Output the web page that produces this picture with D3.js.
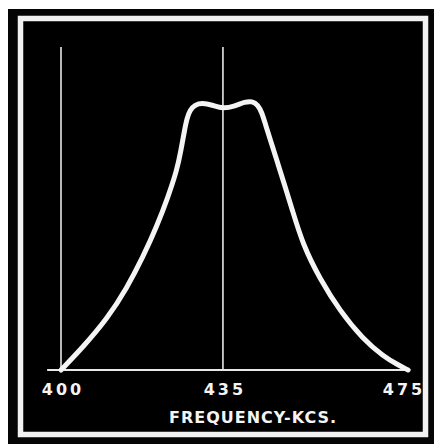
<!DOCTYPE html>
<html>
<head>
<meta charset="utf-8">
<script src="https://cdn.jsdelivr.net/npm/d3@7"></script>
<style>
    body { margin: 0; background: #fff; }
    #chart { width: 434px; height: 444px; }
</style>
</head>
<body>
<div id="chart"></div>
<script>
// response curve (relative height, peak ~1)
const freqKc   = [400, 404.75, 409.94, 414.26, 417.72, 420.75, 423.13, 425.07, 425.94, 426.58, 427.23, 427.88, 428.96, 430.48, 432.64, 435.01, 437.61, 439.77, 441.28, 442.58, 443.44, 444.09, 445.6, 446.9, 448.2, 449.93, 452.31, 455.98, 460.3, 465.27, 469.6, 472.84, 475];
const response = [0, 0.085, 0.189, 0.305, 0.42, 0.535, 0.643, 0.743, 0.817, 0.88, 0.936, 0.966, 0.985, 0.992, 0.985, 0.97, 0.981, 0.996, 0.999, 0.985, 0.955, 0.918, 0.836, 0.765, 0.695, 0.598, 0.464, 0.338, 0.219, 0.115, 0.052, 0.019, 0];

const markerKc   = [400, 435];
const tickValues = [400, 435, 475];
const axisTitle  = "FREQUENCY-KCS.";

class ResponseVis {

    constructor(parentElement, freq, resp) {
        this.parentElement = parentElement;
        this.freq = freq;
        this.resp = resp;

        this.initVis()
    }

    initVis() {
        let vis = this;

        vis.svg = d3.select("#" + vis.parentElement).append("svg")
            .attr("width", 434)
            .attr("height", 444);

        // black card with the white inner rule
        vis.svg.append("rect")
            .attr("x", 8).attr("y", 9)
            .attr("width", 426).attr("height", 435)
            .attr("fill", "#050505");
        vis.svg.append("rect")
            .attr("x", 20.5).attr("y", 18.5)
            .attr("width", 405).attr("height", 416)
            .attr("fill", "#000")
            .attr("stroke", "#f2f2f2")
            .attr("stroke-width", 5.5);

        vis.x = d3.scaleLinear()
            .domain([400, 475])
            .range([61, 408]);

        vis.y = d3.scaleLinear()
            .domain([0, 1.2])
            .range([370, 47]);

        vis.line = d3.line()
            .x(d => vis.x(d.f))
            .y(d => vis.y(d.r))
            .curve(d3.curveBasis);

        vis.wrangleData();
    }

    wrangleData() {
        let vis = this;

        vis.displayData = vis.freq.map((f, i) => ({f: f, r: vis.resp[i]}));

        vis.updateVis()
    }

    updateVis() {
        let vis = this;

        // baseline
        vis.svg.append("line")
            .attr("x1", vis.x(397)).attr("x2", vis.x(475.5))
            .attr("y1", vis.y(0)).attr("y2", vis.y(0))
            .attr("stroke", "#e8e8e8")
            .attr("stroke-width", 2);

        // marker verticals
        vis.svg.selectAll(".marker")
            .data(markerKc)
            .join("line")
            .attr("class", "marker")
            .attr("x1", d => vis.x(d)).attr("x2", d => vis.x(d))
            .attr("y1", vis.y(1.2)).attr("y2", vis.y(0))
            .attr("stroke", "#e8e8e8")
            .attr("stroke-width", 1.6);

        vis.svg.append("path")
            .datum(vis.displayData)
            .attr("d", vis.line)
            .attr("fill", "none")
            .attr("stroke", "#f4f4f4")
            .attr("stroke-width", 5)
            .attr("stroke-linejoin", "round")
            .attr("stroke-linecap", "round");

        vis.svg.selectAll(".tick-label")
            .data(tickValues)
            .join("text")
            .attr("class", "tick-label")
            .attr("x", (d, i) => vis.x(d) + (i === tickValues.length - 1 ? -4 : 2))
            .attr("y", 395)
            .attr("text-anchor", "middle")
            .attr("fill", "#f4f4f4")
            .style("font-family", "DejaVu Sans")
            .style("font-weight", "bold")
            .style("font-size", "16px")
            .style("letter-spacing", "3px")
            .text(d => d);

        vis.svg.append("text")
            .attr("x", 253)
            .attr("y", 423)
            .attr("text-anchor", "middle")
            .attr("fill", "#f4f4f4")
            .style("font-family", "DejaVu Sans")
            .style("font-weight", "bold")
            .style("font-size", "16px")
            .style("letter-spacing", "1px")
            .text(axisTitle);
    }

}

new ResponseVis("chart", freqKc, response);
</script>
</body>
</html>
